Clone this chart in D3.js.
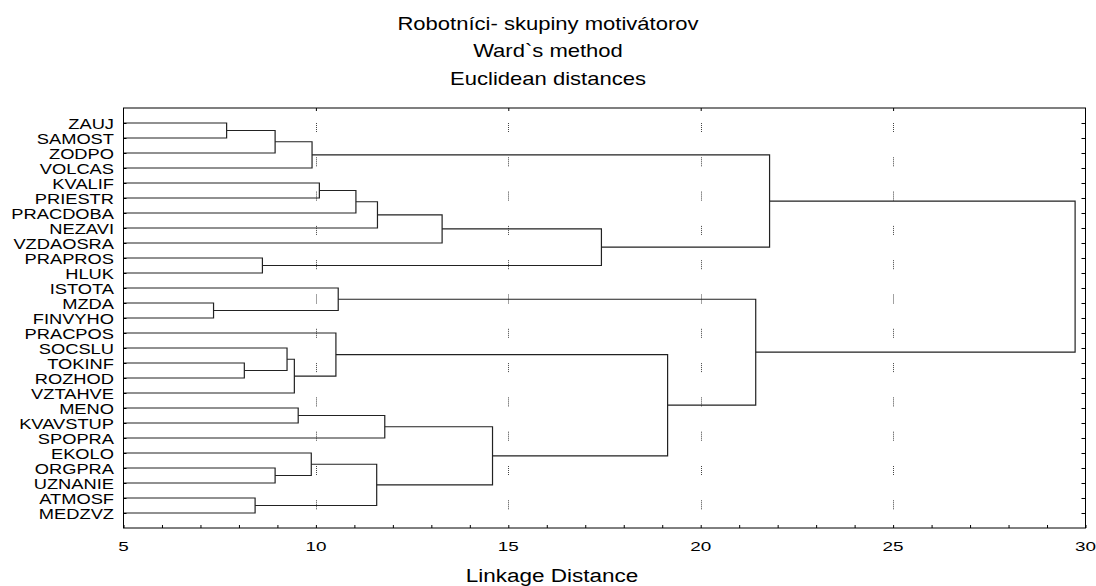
<!DOCTYPE html>
<html>
<head>
<meta charset="utf-8">
<script src="https://cdn.jsdelivr.net/npm/d3@7"></script>
<style>
  body { margin: 0; background: #fff; }
  svg { display: block; }
  text { font-family: "Liberation Sans", Arial, sans-serif; fill: #000; }
</style>
</head>
<body>
<svg width="1096" height="586"></svg>
<script>
// chart text
var TITLE_LINES = ['Robotníci- skupiny motivátorov', 'Ward`s method', 'Euclidean distances'];
var X_LABEL = 'Linkage Distance';

// leaves, top to bottom
var LEAVES = ['ZAUJ', 'SAMOST', 'ZODPO', 'VOLCAS', 'KVALIF', 'PRIESTR', 'PRACDOBA', 'NEZAVI',
  'VZDAOSRA', 'PRAPROS', 'HLUK', 'ISTOTA', 'MZDA', 'FINVYHO', 'PRACPOS', 'SOCSLU', 'TOKINF',
  'ROZHOD', 'VZTAHVE', 'MENO', 'KVAVSTUP', 'SPOPRA', 'EKOLO', 'ORGPRA', 'UZNANIE', 'ATMOSF', 'MEDZVZ'];

// linkage: [node a, node b, distance]; ids 0..26 = leaves, 27.. = earlier merges
var MERGES = [
  [0, 1, 7.68],   // 27
  [27, 2, 8.94],  // 28
  [28, 3, 9.90],  // 29
  [4, 5, 10.09],  // 30
  [30, 6, 11.04], // 31
  [31, 7, 11.60], // 32
  [32, 8, 13.28], // 33
  [9, 10, 8.61],  // 34
  [33, 34, 17.42],// 35
  [29, 35, 21.79],// 36
  [12, 13, 7.34], // 37
  [11, 37, 10.58],// 38
  [16, 17, 8.14], // 39
  [15, 39, 9.25], // 40
  [40, 18, 9.44], // 41
  [14, 41, 10.52],// 42
  [19, 20, 9.54], // 43
  [43, 21, 11.79],// 44
  [23, 24, 8.94], // 45
  [22, 45, 9.88], // 46
  [25, 26, 8.42], // 47
  [46, 47, 11.58],// 48
  [44, 48, 14.59],// 49
  [42, 49, 19.14],// 50
  [38, 50, 21.43],// 51
  [36, 51, 29.73] // 52
];

var X_DOMAIN = [5, 30];
var X_TICKS  = [5, 10, 15, 20, 25, 30];
var GRID     = [10, 15, 20, 25];

var LEFT = 123.5, RIGHT = 1085.5, TOP = 108, BOTTOM = 528;
var STRETCH = 1.22; // text in the picture is a bit wide

var svg = d3.select('svg');

var x = d3.scaleLinear().domain(X_DOMAIN).range([LEFT, RIGHT]);
var y = d3.scalePoint().domain(d3.range(LEAVES.length)).range([TOP, BOTTOM]).padding(1);

// titles
svg.selectAll('text.title')
  .data(TITLE_LINES)
  .enter()
  .append('text')
  .attr('class', 'title')
  .attr('text-anchor', 'middle')
  .attr('font-size', 19)
  .attr('transform', function(d, i) { return 'translate(548,' + (29.5 + i * 27.8) + ') scale(1.16,1)'; })
  .text(function(d) { return d; });

// dotted grid
svg.selectAll('line.grid')
  .data(GRID)
  .enter()
  .append('line')
  .attr('class', 'grid')
  .attr('x1', function(d) { return Math.round(x(d)) + 0.5; })
  .attr('x2', function(d) { return Math.round(x(d)) + 0.5; })
  .attr('y1', TOP)
  .attr('y2', BOTTOM)
  .attr('stroke', '#444')
  .attr('stroke-dasharray', '1,1,1,1,1,1,1,1,1,25.3')
  .attr('stroke-dashoffset', 19.3);

// build node positions
var nodes = LEAVES.map(function(name, i) { return { h: X_DOMAIN[0], y: y(i) }; });
MERGES.forEach(function(m) {
  var a = nodes[m[0]], b = nodes[m[1]];
  nodes.push({ h: m[2], y: (a.y + b.y) / 2, a: a, b: b });
});

// brackets
svg.append('g')
  .selectAll('path')
  .data(nodes.slice(LEAVES.length))
  .enter()
  .append('path')
  .attr('fill', 'none')
  .attr('stroke', '#222')
  .attr('stroke-width', 1.2)
  .attr('d', function(d) {
    return 'M' + x(d.a.h) + ',' + d.a.y + 'H' + x(d.h) + 'V' + d.b.y + 'H' + x(d.b.h);
  });

// axes, ticks inside the frame
var tickStyle = function(g) {
  g.select('.domain').remove();
  g.selectAll('.tick line').attr('stroke', '#000');
};
svg.append('g')
  .attr('transform', 'translate(0,' + BOTTOM + ')')
  .call(d3.axisBottom(x).tickValues(d3.range(5, 31)).tickSize(-3).tickFormat(''))
  .call(tickStyle);
svg.append('g')
  .attr('transform', 'translate(0,' + TOP + ')')
  .call(d3.axisTop(x).tickValues(GRID).tickSize(-3).tickFormat(''))
  .call(tickStyle);
svg.append('g')
  .attr('transform', 'translate(' + RIGHT + ',0)')
  .call(d3.axisRight(y).tickSize(-4).tickFormat(''))
  .call(tickStyle);
svg.append('g')
  .attr('transform', 'translate(' + LEFT + ',0)')
  .call(d3.axisLeft(y).tickSize(-3).tickFormat(''))
  .call(tickStyle);

// frame
svg.append('rect')
  .attr('x', LEFT)
  .attr('y', TOP)
  .attr('width', RIGHT - LEFT)
  .attr('height', BOTTOM - TOP)
  .attr('fill', 'none')
  .attr('stroke', '#000');

// tick labels
svg.selectAll('text.xtick')
  .data(X_TICKS)
  .enter()
  .append('text')
  .attr('class', 'xtick')
  .attr('text-anchor', 'middle')
  .attr('font-size', 13.5)
  .attr('transform', function(d) { return 'translate(' + x(d) + ',551) scale(1.4,1)'; })
  .text(function(d) { return d; });

// leaf labels
svg.selectAll('text.leaf')
  .data(LEAVES)
  .enter()
  .append('text')
  .attr('class', 'leaf')
  .attr('text-anchor', 'end')
  .attr('font-size', 15)
  .attr('transform', function(d, i) { return 'translate(114,' + (y(i) + 5.5) + ') scale(' + STRETCH + ',1)'; })
  .text(function(d) { return d; });

// axis title
svg.append('text')
  .attr('text-anchor', 'middle')
  .attr('font-size', 18)
  .attr('transform', 'translate(552,582) scale(1.25,1)')
  .text(X_LABEL);
</script>
</body>
</html>
